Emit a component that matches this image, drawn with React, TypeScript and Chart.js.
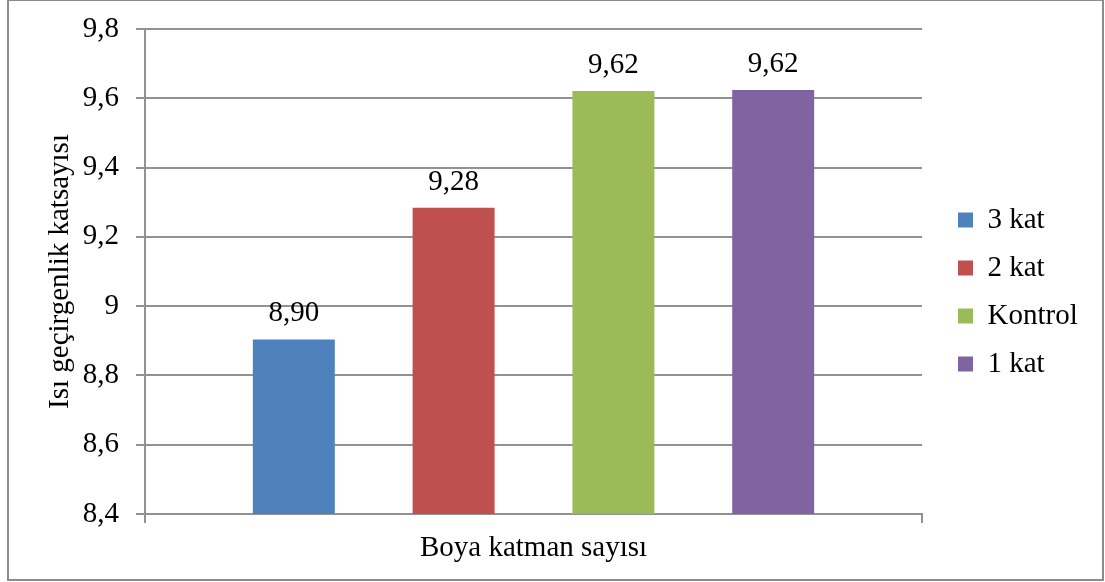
import React, { useEffect, useRef } from "react";
import { Chart, registerables } from "chart.js";

Chart.register(...registerables);

const categories = [""];
const seriesLabels = ["3 kat", "2 kat", "Kontrol", "1 kat"];
const seriesValues = [8.904, 9.284, 9.621, 9.624];
const seriesColors = ["#4F81BD", "#C0504D", "#9BBB59", "#8064A2"];
const yTickLabels = ["8,4", "8,6", "8,8", "9", "9,2", "9,4", "9,6", "9,8"];
const yMin = 8.4;
const yMax = 9.8;
const yStep = 0.2;
const xTitle = "Boya katman sayısı";
const yTitle = "Isı geçirgenlik katsayısı";

const FONT = "'Liberation Serif', 'Times New Roman', serif";
const GRID = "#929292";

const valueLabels = {
  id: "valueLabels",
  afterDatasetsDraw(chart: any) {
    const ctx = chart.ctx;
    ctx.save();
    ctx.font = `29px ${FONT}`;
    ctx.fillStyle = "#000";
    ctx.textAlign = "center";
    ctx.textBaseline = "alphabetic";
    chart.data.datasets.forEach((ds: any, i: number) => {
      const meta = chart.getDatasetMeta(i);
      meta.data.forEach((bar: any, j: number) => {
        const v = ds.data[j] as number;
        ctx.fillText(v.toFixed(2).replace(".", ","), bar.x, bar.y - 18);
      });
    });
    ctx.restore();
  },
};

export default function App() {
  const ref = useRef<HTMLCanvasElement>(null);
  useEffect(() => {
    if (!ref.current) return;
    const chart = new Chart(ref.current, {
      type: "bar",
      data: {
        labels: categories,
        datasets: seriesLabels.map((label, i) => ({
          label,
          data: [seriesValues[i]],
          backgroundColor: seriesColors[i],
          borderColor: seriesColors[i],
          borderWidth: 0,
          categoryPercentage: 0.8226,
          barPercentage: 0.513,
        })),
      },
      options: {
        animation: false,
        responsive: false,
        devicePixelRatio: 1,
        layout: { padding: { left: 0, right: 26, top: 29, bottom: 27 } },
        font: { family: FONT, size: 29 },
        color: "#000",
        plugins: {
          tooltip: { enabled: false },
          legend: {
            position: "right",
            align: "center",
            maxWidth: 140,
            labels: {
              boxWidth: 15,
              boxHeight: 15,
              padding: 19,
              color: "#000",
              font: { family: FONT, size: 29 },
            },
          },
        },
        scales: {
          x: {
            type: "category",
            offset: true,
            grid: {
              display: true,
              drawOnChartArea: false,
              drawTicks: true,
              tickLength: 9,
              color: GRID,
              lineWidth: 2,
            },
            border: { display: true, color: GRID, width: 2 },
            ticks: { display: false },
            title: {
              display: true,
              text: xTitle,
              color: "#000",
              font: { family: FONT, size: 29 },
              padding: { top: 0, bottom: -10.6 },
            },
            afterFit: (s: any) => {
              s.height = 41;
            },
          },
          y: {
            type: "linear",
            position: "left",
            min: yMin,
            max: yMax,
            grid: {
              display: true,
              drawTicks: true,
              tickLength: 9,
              color: GRID,
              lineWidth: 2,
            },
            border: { display: true, color: GRID, width: 2 },
            ticks: {
              stepSize: yStep,
              padding: 17,
              color: "#000",
              font: { family: FONT, size: 29 },
              callback: (_v: any, i: number) => yTickLabels[i],
            },
            title: {
              display: true,
              text: yTitle,
              color: "#000",
              font: { family: FONT, size: 29 },
              padding: { top: 43.3, bottom: 0 },
            },
            afterFit: (s: any) => {
              s.width = 145;
              s.paddingTop = 10;
              s.paddingBottom = 10;
            },
          },
          pad: {
            type: "linear",
            position: "right",
            display: true,
            grid: { display: false },
            border: { display: false },
            ticks: { display: false },
            afterFit: (s: any) => {
              s.width = 17;
            },
          },
        },
      } as any,
      plugins: [valueLabels],
    });
    return () => chart.destroy();
  }, []);

  return (
    <div style={{ position: "fixed", left: 0, top: 0, width: 1105, height: 582, background: "#fff" }}>
      <div
        style={{
          position: "absolute",
          left: 7,
          top: -1,
          width: 1097,
          height: 582,
          border: "2px solid #8c8c8c",
          boxSizing: "border-box",
        }}
      />
      <canvas
        ref={ref}
        width={1105}
        height={582}
        style={{ position: "absolute", left: 0, top: 0, width: 1105, height: 582, display: "block" }}
      />
    </div>
  );
}
